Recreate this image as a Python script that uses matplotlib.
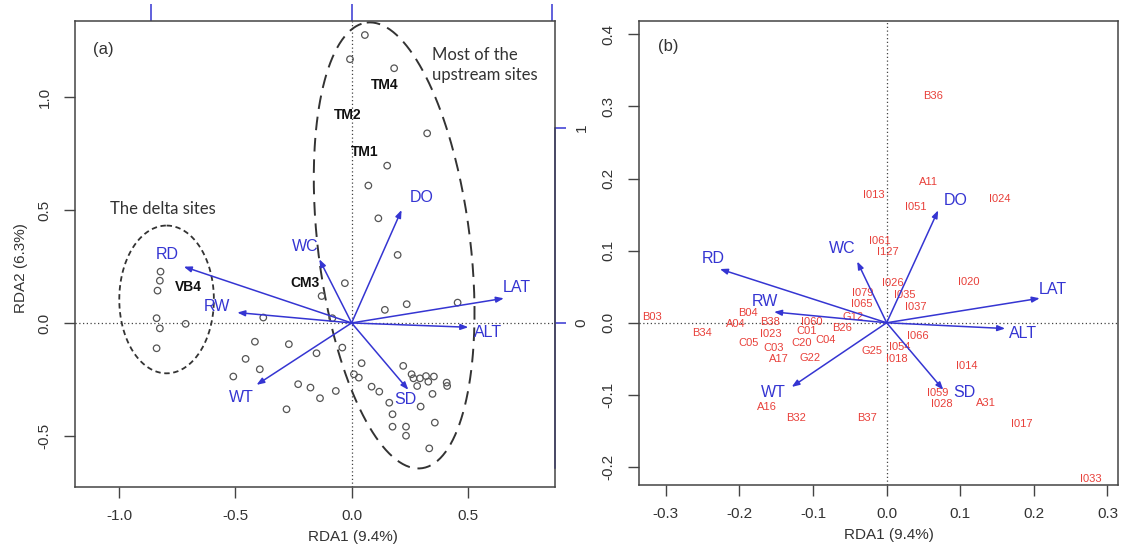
import numpy as np
import matplotlib.pyplot as plt

plt.rcParams['font.family'] = ['Liberation Sans', 'DejaVu Sans']
plt.rcParams['axes.unicode_minus'] = False

BLUE = '#3535d2'
RED = '#e8403a'
GREY = '#444444'

# ---- panel (a): site scores ----
site_x = [-0.007, 0.057, 0.183, 0.325, 0.153, 0.072, 0.115, 0.198, -0.029, -0.129,
          0.143, 0.237, 0.456, -0.083, -0.270, -0.151, -0.040, 0.043, 0.010, 0.031,
          -0.230, -0.177, -0.068, -0.136, 0.086, 0.119, 0.222, 0.258, 0.266, 0.294,
          0.320, 0.354, 0.330, 0.282, 0.409, 0.411, 0.162, 0.348, 0.297, 0.176,
          0.358, 0.176, 0.234, 0.234, 0.334, -0.822, -0.825, -0.835, -0.839, -0.825,
          -0.714, -0.839, -0.380, -0.416, -0.456, -0.395, -0.509, -0.280]
site_y = [1.167, 1.274, 1.127, 0.839, 0.696, 0.608, 0.463, 0.301, 0.176, 0.119,
          0.058, 0.083, 0.090, 0.021, -0.094, -0.134, -0.109, -0.178, -0.227, -0.242,
          -0.271, -0.286, -0.301, -0.333, -0.282, -0.304, -0.190, -0.227, -0.245, -0.245,
          -0.235, -0.237, -0.260, -0.279, -0.264, -0.279, -0.353, -0.314, -0.370, -0.404,
          -0.441, -0.459, -0.459, -0.499, -0.555, 0.227, 0.187, 0.143, 0.021, -0.024,
          -0.004, -0.112, 0.024, -0.083, -0.159, -0.205, -0.237, -0.382]

named_sites = ['TM4', 'TM2', 'TM1', 'VB4', 'CM3']
named_x = [0.143, -0.017, 0.057, -0.703, -0.201]
named_y = [1.053, 0.920, 0.758, 0.158, 0.178]

env_vars = ['DO', 'LAT', 'ALT', 'SD', 'WT', 'RW', 'RD', 'WC']
a_env_x = [0.215, 0.655, 0.502, 0.244, -0.409, -0.492, -0.722, -0.139]
a_env_y = [0.500, 0.109, -0.019, -0.296, -0.274, 0.046, 0.249, 0.282]

# group ellipses: centre, major half-axis vector, minor half-axis vector
delta_ell = ((-0.796, 0.104), (0.0, 0.327), (0.2035, 0.0))
upstream_ell = ((0.183, 0.343), (-0.118, 0.986), (0.325, 0.041))

# ---- panel (b): species scores ----
sp_names = ['B36', 'A11', 'I013', 'I051', 'I024', 'I061', 'I127', 'I026', 'I020', 'I079',
            'I035', 'I065', 'I037', 'G12', 'B26', 'C04', 'I066', 'G25', 'I054', 'I018',
            'I014', 'I059', 'I028', 'A31', 'I017', 'B37', 'I033', 'B03', 'B34', 'A04',
            'B04', 'B38', 'I023', 'C05', 'C03', 'A17', 'I060', 'C01', 'C20', 'G22',
            'A16', 'B32']
sp_x = [0.0625, 0.0565, -0.018, 0.040, 0.153, -0.009, 0.001, 0.008, 0.111, -0.032,
        0.025, -0.034, 0.040, -0.045, -0.060, -0.083, 0.043, -0.0196, 0.018, 0.0144,
        0.109, 0.070, 0.0747, 0.1345, 0.183, -0.027, 0.277, -0.319, -0.251, -0.205,
        -0.188, -0.1586, -0.1576, -0.188, -0.153, -0.146, -0.102, -0.1087, -0.1155, -0.104,
        -0.163, -0.123]
sp_y = [0.315, 0.1956, 0.177, 0.160, 0.1716, 0.114, 0.0976, 0.0546, 0.057, 0.041,
        0.0384, 0.026, 0.0222, 0.0083, -0.0078, -0.024, -0.0185, -0.039, -0.033, -0.050,
        -0.060, -0.098, -0.113, -0.111, -0.141, -0.1326, -0.216, 0.0075, -0.0139, -0.0022,
        0.013, 0.0014, -0.0157, -0.0277, -0.0355, -0.050, 0.0006, -0.0115, -0.0286, -0.049,
        -0.1165, -0.132]

b_env_x = [0.070, 0.208, 0.161, 0.077, -0.129, -0.153, -0.2265, -0.040]
b_env_y = [0.156, 0.034, -0.008, -0.093, -0.089, 0.015, 0.0745, 0.085]

# label offsets from arrow tips (pixels)
a_lab_off = [(20, 12), (13, 11), (20, -5), (-3, -10), (-15, -13), (-20, 6), (-17, 12), (-14, 13)]
b_lab_off = [(18, 10), (13, 9), (18, -5), (21, -3), (-18, -6), (-9, 10), (-7, 11), (-15, 13)]


def draw_arrows(ax, xs, ys, offs):
    for name, x, y, off in zip(env_vars, xs, ys, offs):
        ax.annotate('', xy=(x, y), xytext=(0, 0),
                    arrowprops=dict(arrowstyle='-|>,head_length=0.45,head_width=0.17',
                                    color=BLUE, lw=1.1, shrinkA=0, shrinkB=0))
        ax.annotate(name, xy=(x, y), xytext=off, textcoords='offset pixels',
                    ha='center', va='center', color=BLUE, fontsize=11.5)


def ellipse(ax, ell, **kw):
    (cx, cy), (ux, uy), (vx, vy) = ell
    t = np.linspace(0, 2 * np.pi, 300)
    ax.plot(cx + ux * np.cos(t) + vx * np.sin(t),
            cy + uy * np.cos(t) + vy * np.sin(t), **kw)


def style_axes(ax):
    for s in ax.spines.values():
        s.set_color(GREY)
        s.set_linewidth(1.1)
    ax.tick_params(axis='both', length=8, width=1, color=GREY,
                   labelcolor='#333333', labelsize=11)
    ax.tick_params(axis='x', pad=8)
    ax.tick_params(axis='y', pad=9, labelrotation=90)
    for lbl in ax.get_yticklabels():
        lbl.set_va('center')
    ax.axhline(0, color=GREY, lw=0.9, ls=(0, (1, 2)), zorder=1)
    ax.axvline(0, color=GREY, lw=0.9, ls=(0, (1, 2)), zorder=1)


fig = plt.figure(figsize=(11.21, 5.5), dpi=100)

# ---------- (a) ----------
ax = fig.add_axes([0.0669, 0.1145, 0.4282, 0.8473])
ax.set_xlim(-1.19, 0.875)
ax.set_ylim(-0.726, 1.336)
ax.set_xticks([-1.0, -0.5, 0.0, 0.5])
ax.set_yticks([-0.5, 0.0, 0.5, 1.0])
ax.set_xticklabels(['-1.0', '-0.5', '0.0', '0.5'])
ax.set_yticklabels(['-0.5', '0.0', '0.5', '1.0'])
style_axes(ax)

ax.scatter(site_x, site_y, s=22, facecolors='none', edgecolors='#555555',
           linewidths=0.9, zorder=3)
for name, x, y in zip(named_sites, named_x, named_y):
    ax.text(x, y, name, ha='center', va='center', fontsize=10,
            fontweight='bold', color='#111111')

ellipse(ax, delta_ell, color='#333333', lw=1.3, ls=(0, (3, 2)))
ellipse(ax, upstream_ell, color='#333333', lw=1.4, ls=(0, (7, 4)))
draw_arrows(ax, a_env_x, a_env_y, a_lab_off)

ax.text(-0.811, 0.503, 'The delta sites', ha='center', va='center',
        fontsize=12, color='#333333', family=['Lato', 'DejaVu Sans'])
ax.text(0.344, 1.14, 'Most of the\nupstream sites', ha='left', va='center',
        fontsize=12, color='#333333', linespacing=1.3, family=['Lato', 'DejaVu Sans'])
ax.text(0.059, 0.938, '(a)', transform=ax.transAxes, ha='center', va='center',
        fontsize=12, color='#333333')

ax.set_xlabel('RDA1 (9.4%)', fontsize=11, color='#333333')
ax.xaxis.set_label_coords(0.578, -0.092)
ax.set_ylabel('RDA2 (6.3%)', fontsize=11, color='#333333')
ax.yaxis.set_label_coords(-0.098, 0.47)

# biplot-arrow scale axes
mul = 0.862
top = ax.secondary_xaxis('top', functions=(lambda v: v / mul, lambda v: v * mul))
top.set_xticks([-1, 0, 1])
top.tick_params(axis='x', color=BLUE, length=12, width=1.1, labeltop=False)
top.spines['top'].set_visible(False)

right = ax.secondary_yaxis('right', functions=(lambda v: v / mul, lambda v: v * mul))
right.set_yticks([0, 1])
right.set_yticklabels(['0', '1'])
right.tick_params(axis='y', color=BLUE, length=8, width=1.1, labelcolor='#333333',
                  labelsize=11, pad=6, labelrotation=90)
for lbl in right.get_yticklabels():
    lbl.set_va('center')
right.spines['right'].set_color(BLUE)
right.spines['right'].set_linewidth(1.1)
right.spines['right'].set_bounds(-0.745, 1.0)

# ---------- (b) ----------
bx = fig.add_axes([0.5703, 0.1182, 0.4273, 0.8442])
bx.set_xlim(-0.336, 0.3147)
bx.set_ylim(-0.225, 0.419)
bticks_x = [-0.3, -0.2, -0.1, 0.0, 0.1, 0.2, 0.3]
bticks_y = [-0.2, -0.1, 0.0, 0.1, 0.2, 0.3, 0.4]
bx.set_xticks(bticks_x)
bx.set_yticks(bticks_y)
bx.set_xticklabels([f'{v:.1f}' for v in bticks_x])
bx.set_yticklabels([f'{v:.1f}' for v in bticks_y])
style_axes(bx)

for name, x, y in zip(sp_names, sp_x, sp_y):
    bx.text(x, y, name, ha='center', va='center', fontsize=8, color=RED, zorder=3)
draw_arrows(bx, b_env_x, b_env_y, b_lab_off)

bx.text(0.0605, 0.944, '(b)', transform=bx.transAxes, ha='center', va='center',
        fontsize=12, color='#333333')
bx.set_xlabel('RDA1 (9.4%)', fontsize=11, color='#333333')
bx.xaxis.set_label_coords(0.521, -0.092)

fig.savefig('out.png', dpi=100)
